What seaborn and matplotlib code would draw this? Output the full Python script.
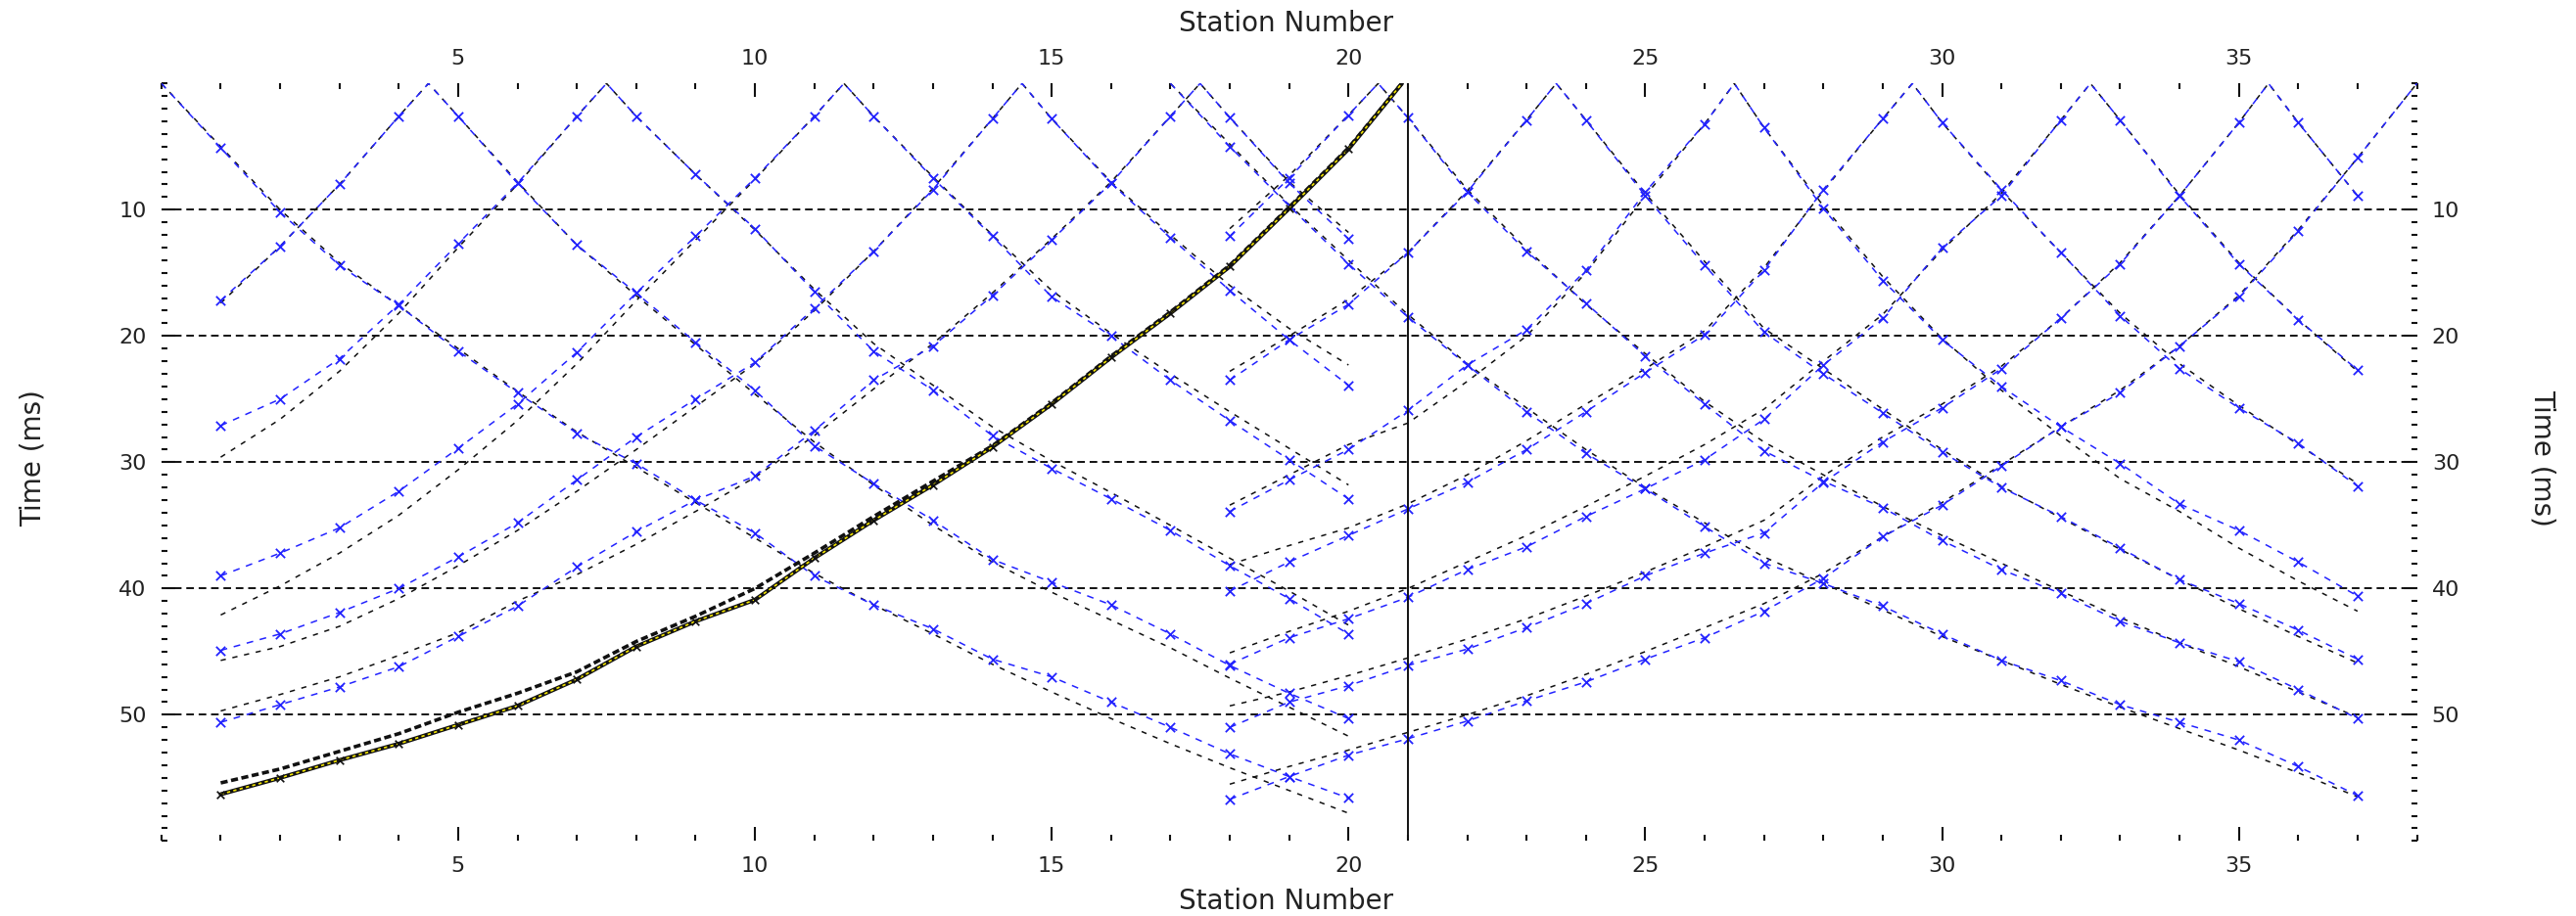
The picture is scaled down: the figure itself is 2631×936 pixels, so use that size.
import numpy as np
import pandas as pd
import matplotlib
matplotlib.use("Agg")
import matplotlib.pyplot as plt
import seaborn as sns

# ---------------- data ----------------
SPREAD1 = list(range(1, 21))     # geophone stations of spread 1
SPREAD2 = list(range(18, 38))    # geophone stations of spread 2

# spread 1 shots (position) with observed picks (obs) and calculated times (calc), ms
SHOT1_POS = [0.0, 4.5, 7.5, 11.5, 14.5, 17.5]
S1_OBS_A = [5.1, 10.2, 14.4, 17.6, 21.2, 24.5, 27.7, 30.1, 33.0, 35.6, 39.0, 41.3, 43.2, 45.6, 47.0, 49.0, 51.0, 53.1, 54.9, 56.6]
S1_CALC_A = [5.0, 10.0, 14.2, 17.6, 21.0, 24.4, 27.6, 30.4, 33.2, 36.0, 38.8, 41.3, 43.6, 46.0, 48.2, 50.3, 52.3, 54.2, 56.0, 57.8]
S1_OBS_B = [17.2, 12.9, 8.0, 2.6, 2.6, 7.9, 12.8, 16.6, 20.5, 24.3, 28.7, 31.7, 34.6, 37.7, 39.5, 41.3, 43.6, 46.1, 48.3, 50.3]
S1_CALC_B = [17.4, 12.9, 8.0, 2.6, 2.6, 7.8, 12.8, 16.8, 20.7, 24.6, 28.4, 31.8, 35.0, 37.9, 40.3, 42.5, 44.7, 47.1, 49.4, 51.7]
S1_OBS_C = [27.1, 25.0, 21.8, 17.5, 12.7, 7.9, 2.6, 2.6, 7.2, 11.5, 16.5, 21.2, 24.3, 27.9, 30.5, 32.9, 35.4, 38.2, 40.8, 43.6]
S1_CALC_C = [29.6, 26.6, 22.8, 18.2, 13.0, 8.0, 2.6, 2.6, 7.2, 11.6, 16.3, 20.6, 23.9, 27.2, 29.9, 32.4, 35.0, 37.6, 40.2, 42.9]
S1_OBS_D = [39.0, 37.2, 35.2, 32.3, 28.9, 25.4, 21.3, 16.6, 12.1, 7.5, 2.6, 2.6, 7.5, 12.1, 16.9, 20.0, 23.5, 26.7, 29.8, 32.9]
S1_CALC_D = [42.1, 39.8, 37.2, 34.2, 30.6, 26.7, 22.2, 17.2, 12.4, 7.6, 2.6, 2.6, 7.4, 12.0, 16.4, 19.8, 23.0, 26.0, 28.9, 31.8]
S1_OBS_E = [44.9, 43.6, 41.9, 40.0, 37.5, 34.8, 31.4, 28.0, 25.0, 22.1, 17.8, 13.3, 8.4, 2.8, 2.8, 7.9, 12.2, 16.4, 20.3, 23.9]
S1_CALC_E = [45.7, 44.6, 43.0, 40.8, 38.2, 35.4, 32.3, 29.0, 25.6, 22.2, 18.0, 13.3, 8.3, 2.8, 2.8, 7.8, 12.0, 16.0, 19.4, 22.3]
S1_OBS_F = [50.6, 49.2, 47.8, 46.2, 43.8, 41.4, 38.3, 35.5, 33.0, 31.1, 27.5, 23.5, 20.8, 16.8, 12.4, 7.9, 2.6, 2.7, 7.9, 12.3]
S1_CALC_F = [49.7, 48.4, 47.0, 45.3, 43.5, 41.0, 38.9, 36.5, 33.9, 31.2, 27.9, 24.2, 20.6, 16.6, 12.3, 7.8, 2.6, 2.7, 7.8, 11.8]

# selected (highlighted) shot on spread 1
SEL_SHOT = 20.9
SEL_OBS = [56.3, 55.0, 53.6, 52.3, 50.8, 49.3, 47.2, 44.6, 42.6, 40.9, 37.6, 34.6, 31.8, 28.8, 25.4, 21.7, 18.2, 14.5, 9.9, 5.2]
SEL_CALC = [55.4, 54.3, 52.9, 51.5, 49.8, 48.3, 46.6, 44.2, 42.2, 40.0, 37.2, 34.3, 31.5, 28.7, 25.3, 21.6, 18.1, 14.4, 9.8, 5.1]

# spread 2 shots
SHOT2_POS = [17.0, 20.5, 23.5, 26.5, 29.5, 32.5, 35.5, 38.0]
S2_OBS_A = [5.0, 9.7, 14.3, 18.5, 22.3, 26.0, 29.3, 32.1, 35.1, 38.0, 39.6, 41.4, 43.6, 45.7, 47.3, 49.2, 50.6, 52.0, 54.1, 56.4]
S2_CALC_A = [4.8, 9.6, 14.0, 18.3, 22.2, 25.7, 29.0, 32.0, 34.8, 37.5, 39.6, 41.7, 43.8, 45.7, 47.6, 49.4, 51.1, 52.8, 54.6, 56.5]
S2_OBS_B = [12.1, 7.5, 2.5, 2.7, 8.6, 13.3, 17.4, 21.6, 25.4, 29.1, 31.5, 33.6, 36.2, 38.5, 40.4, 42.6, 44.3, 45.8, 48.0, 50.3]
S2_CALC_B = [11.5, 7.3, 2.5, 2.7, 8.4, 13.1, 17.5, 21.4, 25.2, 28.4, 31.0, 33.5, 35.8, 38.0, 40.2, 42.3, 44.3, 46.2, 48.2, 50.2]
S2_OBS_C = [23.5, 20.3, 17.5, 13.4, 8.6, 2.9, 2.9, 8.9, 14.4, 19.7, 23.0, 26.1, 29.2, 32.0, 34.3, 36.8, 39.3, 41.2, 43.3, 45.6]
S2_CALC_C = [22.8, 20.0, 17.1, 13.4, 8.5, 2.9, 2.9, 8.7, 14.1, 19.4, 22.6, 25.8, 29.0, 31.9, 34.4, 36.9, 39.3, 41.6, 43.8, 45.9]
S2_OBS_D = [33.9, 31.4, 29.0, 25.9, 22.3, 19.5, 14.8, 8.6, 3.2, 3.5, 9.9, 15.6, 20.3, 24.0, 27.2, 30.1, 33.3, 35.4, 37.9, 40.6]
S2_CALC_D = [33.4, 31.0, 28.6, 26.9, 23.6, 20.0, 15.0, 8.9, 3.2, 3.5, 9.7, 15.3, 20.2, 24.3, 27.9, 31.3, 33.9, 36.8, 39.4, 41.8]
S2_OBS_E = [40.2, 37.9, 35.8, 33.7, 31.6, 29.0, 26.0, 22.9, 19.9, 14.8, 8.4, 2.8, 3.1, 8.4, 13.4, 18.4, 22.6, 25.7, 28.5, 31.9]
S2_CALC_E = [38.1, 36.6, 35.2, 33.3, 31.0, 28.3, 25.4, 22.6, 19.6, 14.6, 8.5, 2.8, 3.1, 8.5, 13.4, 18.2, 22.2, 25.5, 28.6, 31.7]
S2_OBS_F = [46.0, 43.9, 42.4, 40.7, 38.5, 36.7, 34.3, 32.1, 29.8, 26.6, 22.3, 18.6, 13.0, 8.9, 2.9, 2.9, 8.9, 14.3, 18.7, 22.7]
S2_CALC_F = [45.1, 43.4, 41.8, 40.0, 37.9, 35.8, 33.5, 31.1, 28.6, 25.8, 22.0, 18.3, 13.2, 8.7, 2.9, 2.9, 8.8, 14.2, 18.7, 22.8]
S2_OBS_G = [51.0, 49.0, 47.7, 46.1, 44.8, 43.1, 41.2, 39.0, 37.2, 35.6, 31.6, 28.4, 25.7, 22.6, 18.6, 14.3, 8.9, 3.1, 3.1, 8.9]
S2_CALC_G = [49.3, 48.2, 46.9, 45.5, 44.0, 42.4, 40.6, 38.7, 36.7, 34.6, 31.1, 28.0, 25.4, 22.4, 18.6, 14.2, 8.9, 3.1, 3.1, 8.9]
S2_OBS_H = [56.7, 54.9, 53.2, 51.9, 50.5, 48.9, 47.4, 45.6, 43.9, 41.8, 39.2, 35.9, 33.4, 30.3, 27.2, 24.5, 20.8, 16.9, 11.7, 5.9]
S2_CALC_H = [55.5, 54.1, 52.8, 51.4, 50.0, 48.5, 46.8, 45.0, 43.1, 41.2, 38.8, 35.9, 33.2, 30.2, 27.2, 24.3, 20.8, 16.8, 11.6, 5.9]

MARK_STATION = 21          # vertical marker line
GRID_TIMES = [10, 20, 30, 40, 50]
X_TICKS = [5, 10, 15, 20, 25, 30, 35]
X_LABEL = "Station Number"
Y_LABEL = "Time (ms)"

S1_OBS = [S1_OBS_A, S1_OBS_B, S1_OBS_C, S1_OBS_D, S1_OBS_E, S1_OBS_F]
S1_CALC = [S1_CALC_A, S1_CALC_B, S1_CALC_C, S1_CALC_D, S1_CALC_E, S1_CALC_F]
S2_OBS = [S2_OBS_A, S2_OBS_B, S2_OBS_C, S2_OBS_D, S2_OBS_E, S2_OBS_F, S2_OBS_G, S2_OBS_H]
S2_CALC = [S2_CALC_A, S2_CALC_B, S2_CALC_C, S2_CALC_D, S2_CALC_E, S2_CALC_F, S2_CALC_G, S2_CALC_H]

# ---------------- style ----------------
sns.set_theme(style="white")
plt.rcParams['font.family'] = ['DejaVu Sans']

BLUE = '#2323ff'
BLACK = '#111111'


def with_apex(stations, times, shot):
    st = np.asarray(stations, float)
    tt = np.asarray(times, float)
    left = st < shot
    xs = np.concatenate([st[left], [shot], st[~left]])
    ys = np.concatenate([tt[left], [0.0], tt[~left]])
    return pd.DataFrame({"station": xs, "time": ys})


fig = plt.figure(figsize=(26.31, 9.36), dpi=100)
ax = fig.add_axes([0.06264, 0.0819, 0.8756, 0.8270])

# horizontal dashed reference lines
for g in GRID_TIMES:
    ax.axhline(g, color=BLACK, lw=1.4, ls=(0, (4, 2.5)), zorder=1)

records = [(SPREAD1, SHOT1_POS[i], S1_OBS[i], S1_CALC[i]) for i in range(len(SHOT1_POS))]
records += [(SPREAD2, SHOT2_POS[i], S2_OBS[i], S2_CALC[i]) for i in range(len(SHOT2_POS))]

for stations, shot, obs, calc in records:
    dc = with_apex(stations, calc, shot)
    sns.lineplot(data=dc, x="station", y="time", ax=ax, sort=False, estimator=None,
                 color=BLACK, lw=1.1, linestyle=(0, (3.5, 4.5)), zorder=2)
    do = with_apex(stations, obs, shot)
    sns.lineplot(data=do, x="station", y="time", ax=ax, sort=False, estimator=None,
                 color=BLUE, lw=1.1, linestyle=(0, (4.5, 4.5)), zorder=3)
    sns.scatterplot(x=stations, y=obs, ax=ax, marker='x', color=BLUE, s=45,
                    linewidth=1.3, zorder=4)

# highlighted shot
dsc = with_apex(SPREAD1, SEL_CALC, SEL_SHOT)
sns.lineplot(data=dsc, x="station", y="time", ax=ax, sort=False, estimator=None,
             color=BLACK, lw=2.6, linestyle=(0, (2, 1)), zorder=5)
dso = with_apex(SPREAD1, SEL_OBS, SEL_SHOT)
sns.lineplot(data=dso, x="station", y="time", ax=ax, sort=False, estimator=None,
             color=BLACK, lw=3.0, zorder=5)
sns.lineplot(data=dso, x="station", y="time", ax=ax, sort=False, estimator=None,
             color='#f5e600', lw=1.2, linestyle=(0, (2, 2)), zorder=6)
sns.scatterplot(x=SPREAD1, y=SEL_OBS, ax=ax, marker='x', color=BLACK, s=30,
                linewidth=1.2, zorder=6)

ax.axvline(MARK_STATION, color=BLACK, lw=1.4, zorder=7)

# axes
ax.set_xlim(0, 38)
ax.set_ylim(60, 0)
ax.set_xticks(X_TICKS)
ax.set_xticks(np.arange(0, 39), minor=True)
ax.set_yticks(GRID_TIMES)
ax.set_yticks(np.arange(0, 61), minor=True)
for sp in ax.spines.values():
    sp.set_visible(False)
ax.tick_params(which='both', direction='in', top=True, bottom=True, left=True, right=True,
               labeltop=True, labelbottom=True, labelleft=True, labelright=True,
               color=BLACK, width=1.5, labelsize=16, labelcolor='#222222')
ax.tick_params(which='major', length=10, pad=11)
ax.tick_params(which='minor', length=4.5)
ax.set_xlabel("")
ax.set_ylabel("")
ax.grid(False)

fig.text(0.4994, 0.974, X_LABEL, ha='center', va='center', fontsize=20, color='#222222')
fig.text(0.4994, 0.016, X_LABEL, ha='center', va='center', fontsize=20, color='#222222')
fig.text(0.0129, 0.5, Y_LABEL, ha='center', va='center', rotation=90, fontsize=20, color='#222222')
fig.text(0.987, 0.5, Y_LABEL, ha='center', va='center', rotation=270, fontsize=20, color='#222222')

fig.savefig("out.png", dpi=100, facecolor='white')
